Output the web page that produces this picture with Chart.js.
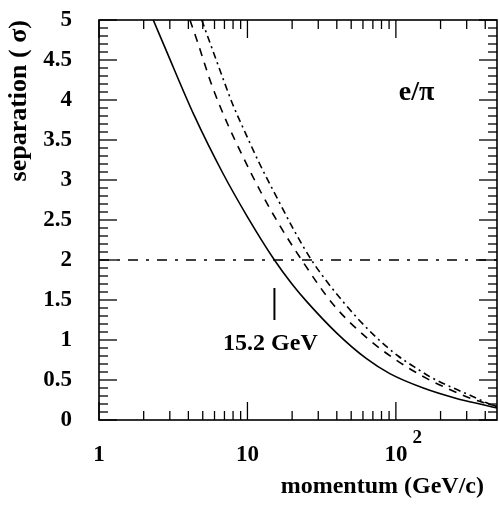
<!DOCTYPE html>
<html>
<head>
<meta charset="utf-8">
<script src="https://cdn.jsdelivr.net/npm/chart.js@4.4.1/dist/chart.umd.min.js"></script>
<style>
  html, body { margin: 0; padding: 0; background: #fff; }
  canvas { display: block; }
</style>
</head>
<body>
<canvas id="c" width="499" height="506"></canvas>
<script>
// e/pi separation versus momentum, three configurations
const momentumSolid   = [2.32, 2.82, 4.37, 6.76, 10, 15.2, 19.95, 25.1, 39.8, 63.1, 91, 153, 256, 387, 480];
const separationSolid = [5.0, 4.63, 3.81, 3.10, 2.54, 2.0, 1.70, 1.48, 1.09, 0.77, 0.58, 0.40, 0.27, 0.19, 0.15];

const momentumDashed   = [4.1, 4.66, 5.74, 7.31, 9.28, 12.3, 16.4, 23.2, 38, 63.5, 98.5, 161, 219, 299, 387, 480];
const separationDashed = [5.0, 4.70, 4.19, 3.71, 3.30, 2.85, 2.44, 2.0, 1.44, 1.03, 0.76, 0.52, 0.40, 0.29, 0.22, 0.17];

const momentumDashDot   = [4.92, 5.89, 6.87, 7.94, 9.62, 12.1, 16.1, 20.5, 27, 44, 70.3, 103.6, 134, 174, 237, 324, 408, 480];
const separationDashDot = [5.0, 4.60, 4.26, 3.95, 3.60, 3.20, 2.75, 2.38, 2.0, 1.48, 1.07, 0.80, 0.66, 0.53, 0.41, 0.30, 0.215, 0.155];

// 2 sigma requirement and the momentum where the solid curve reaches it
const thresholdSeparation = 2;
const thresholdMomentum = 15.2;
const markerSpan = [1.25, 1.65];

// axis ranges and labelled ticks
const momentumRange = [1, 480];
const separationRange = [0, 5];
const xLabelValues = [1, 10, 100];
const xLabelText = ['1', '10', '10'];
const xLabelExponent = { 100: '2' };

const FONT = "'Liberation Serif', 'Times New Roman', serif";

const zip = (xs, ys) => xs.map((v, i) => ({ x: v, y: ys[i] }));

// ticks drawn inside the frame on all four sides
const xMinorValues = [];
for (let d = 1; d <= 100; d *= 10) {
  for (let k = 2; k <= 9; k++) {
    if (k * d <= momentumRange[1]) xMinorValues.push(k * d);
  }
}
const yMajorValues = [];
const yMinorValues = [];
for (let i = 0; i <= 50; i++) {
  const v = i / 10;
  if (i % 5 === 0) yMajorValues.push(v); else yMinorValues.push(v);
}

const framePlugin = {
  id: 'framePlugin',
  afterDatasetsDraw(chart) {
    const { ctx, chartArea: a, scales: { x, y } } = chart;
    ctx.save();
    ctx.strokeStyle = '#000';
    ctx.lineWidth = 1.6;
    ctx.strokeRect(a.left, a.top, a.right - a.left, a.bottom - a.top);

    ctx.lineWidth = 1.3;
    const vTick = (px, len) => {
      ctx.beginPath(); ctx.moveTo(px, a.bottom); ctx.lineTo(px, a.bottom - len); ctx.stroke();
      ctx.beginPath(); ctx.moveTo(px, a.top); ctx.lineTo(px, a.top + len); ctx.stroke();
    };
    const hTick = (py, len) => {
      ctx.beginPath(); ctx.moveTo(a.left, py); ctx.lineTo(a.left + len, py); ctx.stroke();
      ctx.beginPath(); ctx.moveTo(a.right, py); ctx.lineTo(a.right - len, py); ctx.stroke();
    };
    xLabelValues.forEach(v => vTick(x.getPixelForValue(v), 18));
    xMinorValues.forEach(v => vTick(x.getPixelForValue(v), 9));
    yMajorValues.forEach(v => hTick(y.getPixelForValue(v), 18));
    yMinorValues.forEach(v => hTick(y.getPixelForValue(v), 9));

    ctx.fillStyle = '#000';
    ctx.textBaseline = 'alphabetic';
    ctx.textAlign = 'left';
    // exponent of the 10^2 label
    Object.keys(xLabelExponent).forEach(k => {
      const px = x.getPixelForValue(Number(k));
      ctx.font = `bold 23px ${FONT}`;
      const w = ctx.measureText('10').width;
      ctx.font = `bold 19px ${FONT}`;
      ctx.fillText(xLabelExponent[k], px + w / 2 + 5, a.bottom + 23);
    });

    // x axis title, right-aligned under the axis
    ctx.font = `bold 24px ${FONT}`;
    ctx.textAlign = 'right';
    ctx.fillText('momentum (GeV/c)', a.right - 13, a.bottom + 73);

    // particle pair label
    ctx.font = `bold 28px ${FONT}`;
    ctx.textAlign = 'center';
    ctx.fillText('e/\u03C0', x.getPixelForValue(138), y.getPixelForValue(4.0));

    // threshold momentum label under its marker
    ctx.font = `bold 24px ${FONT}`;
    ctx.fillText('15.2 GeV', x.getPixelForValue(thresholdMomentum) - 4, y.getPixelForValue(0.875));
    ctx.restore();
  }
};

new Chart(document.getElementById('c'), {
  type: 'line',
  data: {
    datasets: [
      {
        data: zip(momentumSolid, separationSolid),
        borderColor: '#000', borderWidth: 1.6,
        pointRadius: 0, cubicInterpolationMode: 'monotone'
      },
      {
        data: zip(momentumDashed, separationDashed),
        borderColor: '#000', borderWidth: 1.6, borderDash: [8, 7],
        pointRadius: 0, cubicInterpolationMode: 'monotone'
      },
      {
        data: zip(momentumDashDot, separationDashDot),
        borderColor: '#000', borderWidth: 1.6, borderDash: [7, 4, 2, 4],
        pointRadius: 0, cubicInterpolationMode: 'monotone'
      },
      {
        data: [{ x: momentumRange[0], y: thresholdSeparation }, { x: momentumRange[1], y: thresholdSeparation }],
        borderColor: '#000', borderWidth: 1.5, borderDash: [10, 8, 3, 8],
        pointRadius: 0
      },
      {
        data: [{ x: thresholdMomentum, y: markerSpan[0] }, { x: thresholdMomentum, y: markerSpan[1] }],
        borderColor: '#000', borderWidth: 2,
        pointRadius: 0
      }
    ]
  },
  options: {
    responsive: false,
    animation: false,
    devicePixelRatio: 1,
    layout: { padding: { top: 20, right: 2, left: 0, bottom: 0 } },
    plugins: { legend: { display: false }, tooltip: { enabled: false } },
    scales: {
      x: {
        type: 'logarithmic',
        min: momentumRange[0], max: momentumRange[1],
        afterBuildTicks: s => { s.ticks = xLabelValues.map(v => ({ value: v })); },
        afterFit: s => { s.height = 86; s.paddingLeft = 0; s.paddingRight = 0; },
        grid: { display: false, drawTicks: false },
        border: { display: false },
        ticks: {
          autoSkip: false, maxRotation: 0, padding: 21,
          color: '#000', font: { family: FONT, size: 23, weight: 'bold' },
          callback: (v, i) => xLabelText[i]
        }
      },
      y: {
        min: separationRange[0], max: separationRange[1],
        afterFit: s => { s.width = 99; s.paddingTop = 0; s.paddingBottom = 0; },
        grid: { display: false, drawTicks: false },
        border: { display: false },
        ticks: {
          stepSize: 0.5, padding: 27,
          color: '#000', font: { family: FONT, size: 23, weight: 'bold' },
          callback: v => String(Math.round(v * 10) / 10)
        },
        title: {
          display: true, text: 'separation ( \u03C3)', align: 'end',
          color: '#000', font: { family: FONT, size: 26, weight: 'bold' },
          padding: { top: 4, bottom: 0 }
        }
      }
    }
  },
  plugins: [framePlugin]
});
</script>
</body>
</html>
